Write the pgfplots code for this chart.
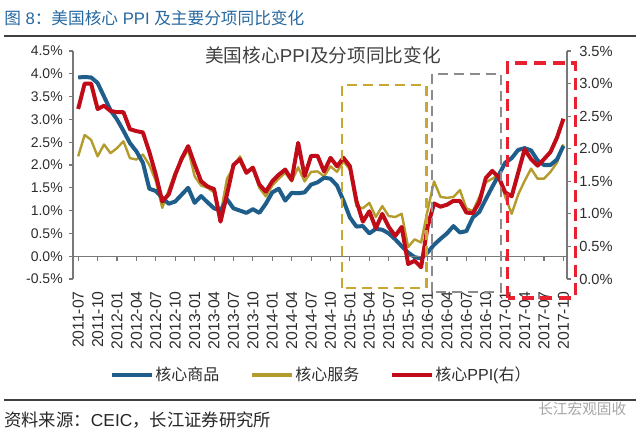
\documentclass[border=0pt]{standalone}
\usepackage{pgfplots}
\pgfplotsset{compat=1.18}
\usepackage{pgfplotstable}
\usepackage{fontspec}
\setmainfont{Liberation Sans}
\newfontfamily\cjk{Noto Sans CJK SC}
\definecolor{blueC}{RGB}{31,94,138}
\definecolor{yellowC}{RGB}{180,156,44}
\definecolor{redC}{RGB}{192,12,24}
\definecolor{titleC}{RGB}{38,104,160}
\definecolor{axisC}{RGB}{120,120,120}
\definecolor{tickC}{RGB}{45,45,45}
\definecolor{boxY}{RGB}{201,168,48}
\definecolor{boxG}{RGB}{140,140,140}
\definecolor{boxR}{RGB}{232,32,48}

\pgfplotstableread{
t goods serv ppi
0 3.92 2.19 2.61
1 3.93 2.66 3.00
2 3.92 2.55 3.00
3 3.80 2.19 2.61
4 3.50 2.45 2.66
5 3.20 2.26 2.58
6 3.00 2.37 2.56
7 2.75 2.52 2.56
8 2.48 2.15 2.30
9 2.30 2.12 2.27
10 2.05 2.23 2.25
11 1.48 2.00 1.95
12 1.43 1.65 1.60
13 1.28 1.06 1.19
14 1.15 1.45 1.30
15 1.20 1.85 1.60
16 1.35 2.10 1.85
17 1.50 2.34 2.04
18 1.17 1.75 1.76
19 1.32 1.55 1.50
20 1.18 1.50 1.42
21 1.05 1.40 1.38
22 1.00 0.92 0.88
23 1.25 1.70 1.30
24 1.05 1.95 1.75
25 1.00 2.19 1.84
26 0.95 1.85 1.63
27 1.03 1.95 1.71
28 0.95 1.50 1.45
29 1.15 1.31 1.34
30 1.40 1.55 1.50
31 1.48 1.70 1.60
32 1.22 1.83 1.68
33 1.39 1.64 1.52
34 1.38 1.95 2.09
35 1.40 1.64 1.58
36 1.57 1.85 1.89
37 1.62 1.86 1.89
38 1.72 1.75 1.65
39 1.70 1.97 1.86
40 1.55 1.85 1.73
41 1.22 2.08 1.86
42 0.85 1.90 1.73
43 0.65 1.10 1.20
44 0.66 1.05 0.88
45 0.50 1.17 1.04
46 0.60 0.86 0.78
47 0.58 1.10 1.00
48 0.50 0.88 0.80
49 0.37 0.86 0.66
50 0.22 0.93 0.80
51 0.08 0.20 0.23
52 -0.02 0.37 0.28
53 -0.05 0.30 0.18
54 0.08 1.00 0.80
55 0.25 1.64 1.16
56 0.38 1.30 1.11
57 0.50 1.28 1.14
58 0.66 1.30 1.20
59 0.52 1.45 1.20
60 0.55 1.05 1.02
61 0.85 0.99 1.01
62 0.97 1.30 1.18
63 1.25 1.62 1.55
64 1.52 1.70 1.66
65 1.78 1.78 1.56
66 2.05 1.30 1.33
67 2.15 0.93 1.27
68 2.33 1.35 1.63
69 2.37 1.65 1.99
70 2.32 1.92 1.84
71 2.10 1.70 1.74
72 2.00 1.70 1.84
73 2.00 1.85 1.95
74 2.12 2.05 2.17
75 2.42 2.45 2.46
}\data

\begin{document}
\begin{tikzpicture}
\path[use as bounding box] (0,0) rectangle (480pt,327pt);
\pgfplotsset{
  base/.style={
    at={(54.75pt,117.75pt)}, anchor=south west, scale only axis,
    width=370.5pt, height=171pt, xmin=-0.8, xmax=75.55,
  },
}
% left axis: goods and services
\begin{axis}[base, ymin=-0.5, ymax=4.5,
  axis y line*=left, axis x line*=bottom,
  x axis line style={draw=none},
  y axis line style={draw=axisC, line width=0.8pt},
  xtick={0,3,...,75},
  xticklabels={2011-07,2011-10,2012-01,2012-04,2012-07,2012-10,2013-01,2013-04,2013-07,2013-10,2014-01,2014-04,2014-07,2014-10,2015-01,2015-04,2015-07,2015-10,2016-01,2016-04,2016-07,2016-10,2017-01,2017-04,2017-07,2017-10},
  major x tick style={draw=none},
  ytick={-0.5,0,...,4.5},
  yticklabels={-0.5\%,0.0\%,0.5\%,1.0\%,1.5\%,2.0\%,2.5\%,3.0\%,3.5\%,4.0\%,4.5\%},
  tick align=outside, major tick length=3pt,
  y tick style={axisC, line width=0.8pt},
  xticklabel style={rotate=90, anchor=east, inner sep=0pt, font=\fontsize{11.8pt}{13pt}\selectfont, text=tickC},
  yticklabel style={inner sep=0pt, font=\fontsize{10.5pt}{12pt}\selectfont, text=tickC},
  yticklabel shift=4.5pt, xticklabel shift=6pt,
]
\addplot[yellowC, line width=1.8pt, line join=round] table[x=t,y=serv]{\data};
\addplot[blueC, line width=3pt, line join=round] table[x=t,y=goods]{\data};
\end{axis}
% zero line
\begin{axis}[base, ymin=-0.5, ymax=4.5,
  axis x line=middle, axis y line=none,
  x axis line style={-, draw=axisC, line width=0.8pt},
  xtick={0,3,...,75}, xticklabels={}, ytick=\empty,
  tick align=outside, major tick length=3.5pt,
  x tick style={axisC, line width=0.8pt},
]
\end{axis}
% right axis: core PPI
\begin{axis}[base, ymin=0, ymax=3.5,
  axis y line*=right, axis x line=none,
  y axis line style={draw=axisC, line width=0.8pt},
  ytick={0,0.5,...,3.5},
  yticklabels={0.0\%,0.5\%,1.0\%,1.5\%,2.0\%,2.5\%,3.0\%,3.5\%},
  tick align=outside, major tick length=3pt,
  y tick style={axisC, line width=0.8pt},
  yticklabel style={inner sep=0pt, font=\fontsize{11pt}{12pt}\selectfont, text=tickC},
  yticklabel shift=6pt,
  clip=false,
  legend columns=3,
  legend style={at={(0.502,-0.421)}, anchor=center, draw=none, fill=none,
    font=\fontsize{12pt}{14pt}\selectfont, text=tickC,
    /tikz/every even column/.append style={column sep=22pt},
    nodes={inner xsep=1pt, inner ysep=1pt}},
  legend image code/.code={\draw[#1, line cap=butt] (0pt,0pt) -- (30pt,0pt);},
]
\addlegendimage{blueC, line width=3pt}
\addlegendentry{{\cjk 核心商品}}
\addlegendimage{yellowC, line width=3pt}
\addlegendentry{{\cjk 核心服务}}
\addplot[redC, line width=3pt, line join=round] table[x=t,y=ppi]{\data};
\addlegendentry{{\cjk 核心}PPI({\cjk 右）}}
% dashed annotation boxes
\draw[boxY, line width=2pt, dash pattern=on 7.5pt off 4.5pt] (axis cs:40.8,-0.138) rectangle (axis cs:53.8,2.978);
\draw[boxG, line width=2pt, dash pattern=on 7.5pt off 4.5pt] (axis cs:54.7,-0.200) rectangle (axis cs:65.35,3.147);
\draw[boxR, line width=2.3pt, dash pattern=on 9pt off 5pt] (axis cs:66.4,-0.292) rectangle (axis cs:76.8,3.316);
\end{axis}

\begin{scope}[x=0.75pt, y=-0.75pt, shift={(0,327pt)}]
\node[anchor=west, text=titleC, inner sep=0pt] at (4,18) {\fontsize{12.5pt}{15pt}\selectfont {\cjk 图} 8{\cjk ：美国核心} PPI {\cjk 及主要分项同比变化}};
\draw[black!75, line width=1.3pt] (4,36) -- (636,36);
\node[text=black!75, inner sep=0pt] at (323,55) {\fontsize{14pt}{16pt}\selectfont {\cjk 美国核心}PPI{\cjk 及分项同比变化}};
\draw[black!75, line width=1.3pt] (4,400) -- (636,400);
\node[anchor=west, text=black!85, inner sep=0pt] at (4,420) {\fontsize{13pt}{15pt}\selectfont {\cjk 资料来源：}CEIC{\cjk ，长江证券研究所}};
\node[anchor=west, text=black!35, inner sep=0pt] at (538,409) {\fontsize{11pt}{13pt}\selectfont {\cjk 长江宏观固收}};
\end{scope}
\end{tikzpicture}
\end{document}
